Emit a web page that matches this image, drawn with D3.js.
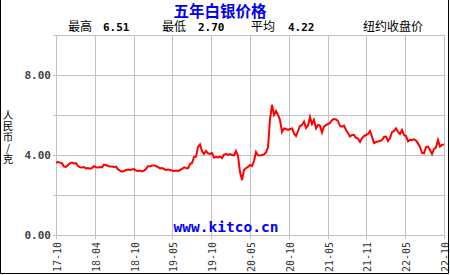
<!DOCTYPE html>
<html><head><meta charset="utf-8">
<script src="https://cdn.jsdelivr.net/npm/d3@7"></script>
<style>
html,body{margin:0;padding:0;background:#fff;}
svg{display:block;}
</style></head>
<body><svg id="c" width="450" height="275"></svg>
<script>
const title = "五年白银价格";
const statLabels = ["最高", "最低", "平均"];
const statValues = ["6.51", "2.70", "4.22"];
const subtitle = "纽约收盘价";
const yLabel = "人民币/克";
const watermark = "www.kitco.cn";
const xTickLabels = ["17-10","18-04","18-10","19-05","19-10","20-05","20-10","21-05","21-11","22-05","22-10"];
const yTicks = [0, 2, 4, 6, 8, 10];
const yTickLabels = {0: "0.00", 4: "4.00", 8: "8.00"};
const prices = [
 3.62,3.65,3.62,3.58,3.42,3.40,3.50,3.58,3.62,3.58,3.60,3.45,3.38,3.37,3.40,3.33,3.35,3.32,3.35,3.45,3.38,3.37,3.40,3.38,3.52,3.50,3.45,3.42,3.42,3.40,3.42,3.28,3.22,
 3.17,3.20,3.25,3.27,3.25,3.28,3.30,3.22,3.20,3.22,3.18,3.22,3.30,3.45,3.43,3.47,3.48,3.45,3.40,3.33,3.35,3.30,3.25,3.27,3.25,3.22,3.20,3.22,3.20,3.25,3.30,3.38,3.35,3.33,
 3.55,3.60,3.90,3.92,4.40,4.53,4.20,4.05,4.20,4.08,4.05,4.10,3.87,3.90,3.88,3.92,3.85,4.02,4.05,4.00,4.05,4.00,3.98,4.20,3.95,3.15,2.75,3.25,3.35,3.40,3.50,3.45,3.70,
 4.15,3.98,3.97,4.00,4.03,4.13,4.37,5.80,6.51,6.00,6.20,6.00,5.75,5.15,5.33,5.30,5.25,5.30,5.33,5.08,4.95,5.20,5.45,5.50,5.67,5.35,5.47,5.90,5.55,5.75,5.33,5.50,5.47,
 5.13,5.42,5.50,5.55,5.60,5.75,5.80,5.78,5.70,5.45,5.42,5.47,5.25,5.10,4.92,5.00,5.00,4.85,4.82,4.65,4.85,4.95,5.00,5.05,5.20,4.92,4.60,4.65,4.68,4.70,4.75,4.90,4.92,
 4.70,4.83,5.15,5.20,5.33,5.15,5.05,5.25,5.00,4.95,4.68,4.75,4.75,4.78,4.72,4.58,4.40,4.10,4.08,4.40,4.42,4.25,4.05,4.30,4.38,4.75,4.42,4.50,4.53
];

const svg = d3.select("#c");
const L = 56, R = 444, T = 35, B = 235;
const mono = "'DejaVu Sans Mono', 'Liberation Mono', monospace";
const cjk = "'Noto Sans CJK SC', sans-serif";

svg.append("rect").attr("x",0).attr("y",0).attr("width",450).attr("height",275).attr("fill","#fff");

const x = d3.scaleLinear().domain([0, prices.length - 1]).range([L, R]);
const xt = d3.scaleLinear().domain([0, xTickLabels.length - 1]).range([L, R]);
const y = d3.scaleLinear().domain([0, 10]).range([B, T]);

// grid
const g = svg.append("g");
g.selectAll("line.h").data(yTicks).enter().append("line")
  .attr("x1", L).attr("x2", R).attr("y1", d => Math.round(y(d)) + 0.5).attr("y2", d => Math.round(y(d)) + 0.5)
  .attr("stroke", "#c0c0c0").attr("stroke-width", 1);
g.selectAll("line.v").data(xTickLabels).enter().append("line")
  .attr("y1", T).attr("y2", B + 4).attr("x1", (d,i) => Math.round(xt(i)) + 0.5).attr("x2", (d,i) => Math.round(xt(i)) + 0.5)
  .attr("stroke", "#c0c0c0").attr("stroke-width", 1);
g.selectAll("line.t").data(yTicks).enter().append("line")
  .attr("x1", L - 3).attr("x2", L).attr("y1", d => Math.round(y(d)) + 0.5).attr("y2", d => Math.round(y(d)) + 0.5)
  .attr("stroke", "#c0c0c0");

// y tick labels
svg.selectAll("text.yt").data(yTicks.filter(d => yTickLabels[d])).enter().append("text")
  .attr("x", 51).attr("y", d => y(d) + 4)
  .attr("text-anchor", "end").attr("font-family", mono).attr("font-weight", "bold")
  .attr("font-size", 11).attr("fill", "#444").text(d => yTickLabels[d]);

// x tick labels
svg.selectAll("text.xt").data(xTickLabels).enter().append("text")
  .attr("transform", (d,i) => `translate(${xt(i) + 5},242) rotate(-90)`)
  .attr("text-anchor", "end").attr("font-family", mono)
  .attr("font-size", 10).attr("fill", "#333").text(d => d);

// watermark
svg.append("text").attr("x", 226).attr("y", 232).attr("text-anchor", "middle")
  .attr("font-family", mono).attr("font-weight", "bold").attr("font-size", 14.5)
  .attr("fill", "#0000ff").text(watermark);

// line
const line = d3.line().x((d,i) => x(i)).y(d => y(d));
svg.append("path").datum(prices).attr("d", line)
  .attr("fill", "none").attr("stroke", "#ff0000").attr("stroke-width", 2).attr("stroke-linejoin", "miter");

// title
svg.append("text").attr("x", 220).attr("y", 17).attr("text-anchor", "middle")
  .attr("font-family", cjk).attr("font-weight", "bold").attr("font-size", 15.5)
  .attr("fill", "#0000ee").text(title);

// stats row
const statX = [68, 162, 251];
const valX = [103, 198, 288];
statLabels.forEach((s, i) => {
  svg.append("text").attr("x", statX[i]).attr("y", 31).attr("font-family", cjk)
    .attr("font-size", 12).attr("fill", "#000").text(s);
  svg.append("text").attr("x", valX[i]).attr("y", 31).attr("font-family", mono)
    .attr("font-weight", "bold").attr("font-size", 11).attr("fill", "#000").text(statValues[i]);
});
svg.append("text").attr("x", 363).attr("y", 31).attr("font-family", cjk)
  .attr("font-size", 12).attr("fill", "#000").text(subtitle);

// y label, vertical
svg.append("text").attr("x", 8).attr("y", 110)
  .attr("font-family", cjk).attr("font-size", 10.5).attr("fill", "#000")
  .style("writing-mode", "vertical-rl").style("text-orientation", "upright")
  .attr("letter-spacing", 0.5)
  .text(yLabel);

// outer frame
svg.append("path").attr("d", "M0.5,0 V273.5 H448.5 V0")
  .attr("fill", "none").attr("stroke", "#000").attr("stroke-width", 1);
</script></body></html>
